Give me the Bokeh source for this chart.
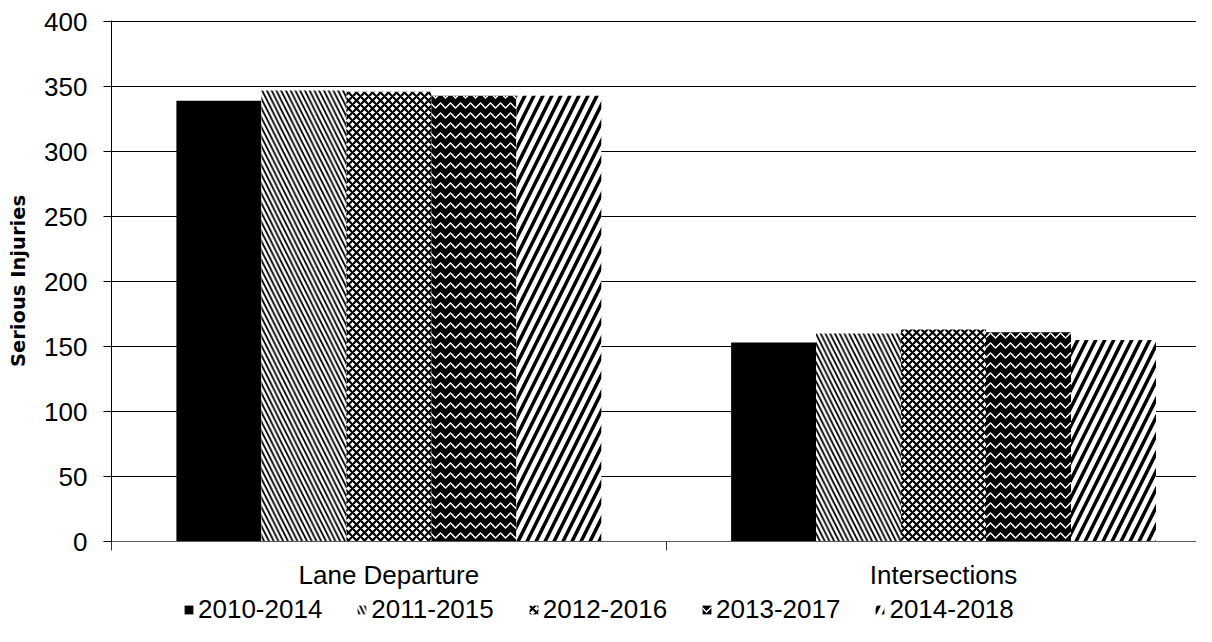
from bokeh.plotting import figure
from bokeh.layouts import column
from bokeh.models import (Range1d, LinearAxis, FixedTicker, Legend, LegendItem)
from bokeh.embed import file_html
from bokeh.resources import INLINE

categories = ["Lane Departure", "Intersections"]
series = ["2010-2014", "2011-2015", "2012-2016", "2013-2017", "2014-2018"]
values = {
    "2010-2014": [339, 153],
    "2011-2015": [347, 160],
    "2012-2016": [346, 163],
    "2013-2017": [343, 161],
    "2014-2018": [343, 155],
}
y_ticks = [0, 50, 100, 150, 200, 250, 300, 350, 400]

styles = [
    dict(fill_color="black", hatch_pattern=None),
    dict(fill_color="white", hatch_pattern="left_diagonal_line", hatch_color="black", hatch_scale=9.5, hatch_weight=1.8),
    dict(fill_color="white", hatch_pattern="diagonal_cross", hatch_color="black", hatch_scale=8, hatch_weight=2.2),
    dict(fill_color="black", hatch_pattern="horizontal_wave", hatch_color="white", hatch_scale=10, hatch_weight=1.5),
    dict(fill_color="white", hatch_pattern="right_diagonal_line", hatch_color="black", hatch_scale=18, hatch_weight=3.5),
]

W = 1196
FRAME_L, FRAME_T, FRAME_B = 111, 20, 541
BOTTOM_PANEL = 53
H1 = FRAME_B + BOTTOM_PANEL
H2 = 626 - H1
cat_px = 554.7

p = figure(width=W, height=H1, output_backend="svg", toolbar_location=None,
           x_range=Range1d(0, (W - FRAME_L) / cat_px), y_range=Range1d(0, 400.8),
           x_axis_location=None, y_axis_location=None,
           min_border_left=FRAME_L, min_border_right=0, min_border_top=FRAME_T,
           min_border_bottom=BOTTOM_PANEL)
p.outline_line_color = None
p.background_fill_color = "white"
p.border_fill_color = "white"

FONT = "Liberation Sans"

yaxis = LinearAxis(ticker=FixedTicker(ticks=y_ticks, minor_ticks=[]))
yaxis.axis_line_color = "black"
yaxis.major_tick_out = 8
yaxis.major_tick_in = 0
yaxis.major_tick_line_color = "black"
yaxis.major_label_text_font = FONT
yaxis.major_label_text_font_size = "26px"
yaxis.major_label_text_color = "black"
yaxis.major_label_standoff = 16
yaxis.axis_label = "Serious Injuries"
yaxis.axis_label_text_font = "DejaVu Sans"
yaxis.axis_label_text_font_style = "bold"
yaxis.axis_label_text_font_size = "19.5px"
yaxis.axis_label_text_color = "black"
yaxis.axis_label_standoff = 11
p.add_layout(yaxis, "left")

centers = [i + 0.5 for i in range(len(categories))]
xaxis = LinearAxis(ticker=FixedTicker(ticks=centers, minor_ticks=list(range(len(categories) + 1))))
xaxis.major_label_overrides = {c: name for c, name in zip(centers, categories)}
xaxis.axis_line_color = "#595959"
xaxis.major_tick_out = 0
xaxis.major_tick_in = 0
xaxis.minor_tick_out = 9
xaxis.minor_tick_in = 0
xaxis.minor_tick_line_color = "#333333"
xaxis.major_label_text_font = FONT
xaxis.major_label_text_font_size = "26px"
xaxis.major_label_text_color = "black"
xaxis.major_label_standoff = 9
p.add_layout(xaxis, "below")

p.ygrid.ticker = FixedTicker(ticks=y_ticks)
p.ygrid.grid_line_color = "black"
p.ygrid.grid_line_width = 1
p.xgrid.grid_line_color = None

bar_w = 0.1532


def bar_kwargs(st):
    kw = dict(line_color=None, fill_color=st["fill_color"])
    if st["hatch_pattern"]:
        kw.update(hatch_pattern=st["hatch_pattern"], hatch_color=st["hatch_color"],
                  hatch_scale=st["hatch_scale"], hatch_weight=st["hatch_weight"])
    return kw


for j, (s, st) in enumerate(zip(series, styles)):
    xs = [c + (j - 2) * bar_w for c in centers]
    p.vbar(x=xs, top=values[s], width=bar_w, bottom=0, **bar_kwargs(st))

# legend strip below the chart
p2 = figure(width=W, height=H2, output_backend="svg", toolbar_location=None,
            x_range=Range1d(0, 1), y_range=Range1d(0, 1),
            x_axis_location=None, y_axis_location=None,
            min_border_left=0, min_border_right=0, min_border_top=0, min_border_bottom=0)
p2.outline_line_color = None
p2.xgrid.grid_line_color = None
p2.ygrid.grid_line_color = None
p2.background_fill_color = "white"
p2.border_fill_color = "white"

items = []
for s, st in zip(series, styles):
    r = p2.vbar(x=[0.5], top=[0], width=0.01, bottom=0, **bar_kwargs(st))
    items.append(LegendItem(label=s, renderers=[r]))

legend = Legend(items=items, orientation="horizontal", location=(72, 1))
legend.border_line_color = None
legend.background_fill_alpha = 0
legend.padding = 0
legend.margin = 0
legend.spacing = 34
legend.glyph_width = 11
legend.glyph_height = 11
legend.label_standoff = 4
legend.label_text_font = FONT
legend.label_text_font_size = "26px"
legend.label_text_color = "black"
p2.add_layout(legend, "center")

layout = column(p, p2, spacing=0)
open("out.html", "w").write(file_html(layout, INLINE))
